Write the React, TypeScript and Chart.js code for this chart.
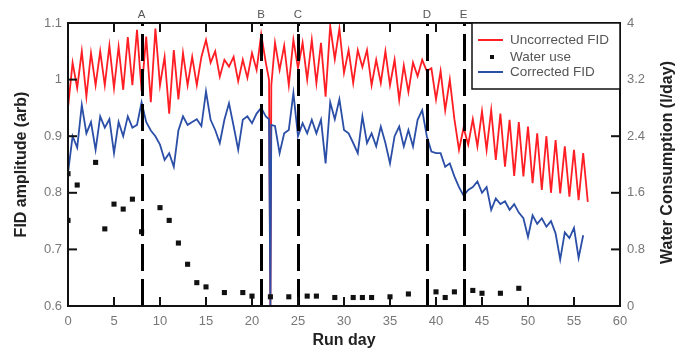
import React, { useEffect, useRef } from 'react';
import { Chart, registerables } from 'chart.js';

Chart.register(...registerables);

// FID samples every half day, starting at run day 0
const FID_STEP_DAYS = 0.5;

const uncorrectedFid: (number | null)[] = [
  0.95, 1.03, 0.985, 1.05, 0.97, 1.047, 0.99, 1.05, 0.99, 1.06,
  0.985, 1.058, 0.982, 1.075, 0.99, 1.088, 0.98, 1.076, 0.96, 1.09,
  0.99, 1.04, 0.94, 1.052, 0.965, 1.047, 0.99, 1.04, 0.99, 1.04,
  1.07, 1.03, 1.05, 1.005, 1.035, 1.023, 1.04, 0.997, 1.035, 1.003,
  1.047, 1.017, 1.08, 1.03, 0.6, 1.065, 1.017, 1.06, 0.99, 1.07,
  1.02, 1.065, 1.0, 1.07, 0.994, 1.065, 0.97, 1.095, 1.036, 1.09,
  1.012, 1.052, 0.994, 1.052, 1.022, 1.052, 0.99, 1.035, 0.994, 1.05,
  0.99, 1.035, 0.964, 1.025, 0.978, 1.03, 1.006, 1.035, 1.015, 1.02,
  0.965, 1.015, 0.946, 1.0, 0.93, 0.876, 0.915, 0.885, 0.93, 0.882,
  0.944, 0.876, 0.946, 0.858, 0.94, 0.846, 0.929, 0.83, 0.925, 0.829,
  0.917, 0.817, 0.905, 0.805, 0.9, 0.8, 0.893, 0.799, 0.882, 0.793,
  0.876, 0.787, 0.87, 0.784,
];

const correctedFid: (number | null)[] = [
  0.835, 0.9, 0.88, 0.955, 0.905, 0.925, 0.876, 0.935, 0.915, 0.93,
  0.87, 0.925, 0.9, 0.935, 0.915, 0.92, 0.96, 0.925, 0.91, 0.9,
  0.885, 0.858, 0.87, 0.846, 0.91, 0.935, 0.92, 0.925, 0.93, 0.918,
  0.979, 0.929, 0.911, 0.888, 0.929, 0.958, 0.918, 0.876, 0.929, 0.935,
  0.923, 0.94, 0.95, 0.935, 0.6, 0.918, 0.87, 0.905, 0.911, 0.976,
  0.9, 0.923, 0.905, 0.929, 0.905, 0.929, 0.852, 0.96, 0.93, 0.965,
  0.911, 0.905, 0.888, 0.87, 0.935, 0.888, 0.905, 0.882, 0.917, 0.888,
  0.852, 0.9, 0.917, 0.882, 0.911, 0.882, 0.929, 0.946, 0.9, 0.873,
  0.87, 0.87, 0.846, 0.852, 0.829, 0.81, 0.795, 0.805, 0.81, 0.82,
  0.8, 0.81, 0.77, 0.79, 0.78, 0.785, 0.77, 0.78, 0.765, 0.755,
  0.722, 0.76, 0.745, 0.755, 0.74, 0.75, 0.728, 0.682, 0.73, 0.72,
  0.738, 0.685, 0.725, null,
];

// extra samples around the day-22 dropout
const dropoutShoulderDays = [21.85, 22.1];
const uncorrectedShoulders = [1.0, 0.99];
const correctedShoulders = [0.93, 0.92];

const waterDays = [0, 0, 1, 3, 4, 5, 6, 7, 8, 10, 11, 12, 13, 14, 15, 17, 19, 20, 22, 24, 26, 27, 29, 31, 32, 33, 35, 37, 40, 41, 42, 44, 45, 47, 49];
const waterUse = [1.87, 1.21, 1.71, 2.03, 1.09, 1.44, 1.37, 1.51, 1.05, 1.39, 1.21, 0.89, 0.59, 0.33, 0.27, 0.19, 0.19, 0.14, 0.13, 0.13, 0.14, 0.14, 0.12, 0.12, 0.12, 0.12, 0.13, 0.17, 0.2, 0.12, 0.2, 0.22, 0.18, 0.18, 0.25];

const eventDays = [8, 21, 25, 39, 43];
const eventLabels = ['A', 'B', 'C', 'D', 'E'];

const seriesLabels = ['Uncorrected FID', 'Water use', 'Corrected FID'];
const xTitle = 'Run day';
const yTitle = 'FID amplitude (arb)';
const y2Title = 'Water Consumption (l/day)';

const RED = '#ff1e24';
const BLUE = '#2b4ea6';
const FONT = 'Arial, "Liberation Sans", sans-serif';

function buildSeries(grid: (number | null)[], shoulders: number[]) {
  const pts = grid.map((v, i) => ({ x: i * FID_STEP_DAYS, y: v }));
  dropoutShoulderDays.forEach((d, i) => pts.push({ x: d, y: shoulders[i] }));
  return pts.sort((a, b) => a.x - b.x);
}

const fmt = (v: number) => String(Math.round(v * 10) / 10);

const decorPlugin = {
  id: 'decor',
  afterDatasetsDraw(chart: any) {
    const { ctx, chartArea: a, scales } = chart;
    const xs = scales.x, ys = scales.y, y2s = scales.y2;
    ctx.save();

    // event dashed lines
    ctx.strokeStyle = '#000';
    ctx.lineWidth = 3;
    ctx.setLineDash([27, 8]);
    eventDays.forEach((d) => {
      const px = Math.round(xs.getPixelForValue(d)) + 0.5;
      ctx.beginPath();
      ctx.moveTo(px, a.bottom);
      ctx.lineTo(px, a.top);
      ctx.stroke();
    });
    ctx.setLineDash([]);

    ctx.fillStyle = '#555';
    ctx.font = `11.5px ${FONT}`;
    ctx.textAlign = 'center';
    ctx.textBaseline = 'middle';
    eventDays.forEach((d, i) => {
      ctx.fillText(eventLabels[i], xs.getPixelForValue(d), a.top - 8);
    });

    // inward ticks
    ctx.strokeStyle = '#111';
    ctx.lineWidth = 2;
    const L = 9;
    xs.ticks.forEach((t: any) => {
      if (t.value <= xs.min || t.value >= xs.max) return;
      const px = xs.getPixelForValue(t.value);
      ctx.beginPath();
      ctx.moveTo(px, a.bottom); ctx.lineTo(px, a.bottom - L);
      ctx.moveTo(px, a.top); ctx.lineTo(px, a.top + L);
      ctx.stroke();
    });
    ys.ticks.forEach((t: any) => {
      if (t.value <= ys.min + 1e-9 || t.value >= ys.max - 1e-9) return;
      const py = ys.getPixelForValue(t.value);
      ctx.beginPath();
      ctx.moveTo(a.left, py); ctx.lineTo(a.left + L, py);
      ctx.stroke();
    });
    y2s.ticks.forEach((t: any) => {
      if (t.value <= y2s.min + 1e-9 || t.value >= y2s.max - 1e-9) return;
      const py = y2s.getPixelForValue(t.value);
      ctx.beginPath();
      ctx.moveTo(a.right, py); ctx.lineTo(a.right - L, py);
      ctx.stroke();
    });

    // frame
    ctx.strokeStyle = '#111';
    ctx.lineWidth = 2;
    ctx.strokeRect(a.left, a.top, a.right - a.left, a.bottom - a.top);

    // legend box
    const bx = a.right - 148, by = a.top, bw = 148, bh = 66;
    ctx.fillStyle = '#fff';
    ctx.fillRect(bx, by, bw, bh);
    ctx.lineWidth = 1.5;
    ctx.strokeRect(bx, by, bw, bh);
    const rows = [by + 17, by + 34, by + 49];
    ctx.lineWidth = 2;
    ctx.strokeStyle = RED;
    ctx.beginPath(); ctx.moveTo(bx + 6, rows[0]); ctx.lineTo(bx + 31, rows[0]); ctx.stroke();
    ctx.strokeStyle = BLUE;
    ctx.beginPath(); ctx.moveTo(bx + 6, rows[2]); ctx.lineTo(bx + 31, rows[2]); ctx.stroke();
    ctx.fillStyle = '#111';
    ctx.fillRect(bx + 18, rows[1] - 2, 4, 4);
    ctx.fillStyle = '#555';
    ctx.font = `13.5px ${FONT}`;
    ctx.textAlign = 'left';
    ctx.textBaseline = 'middle';
    seriesLabels.forEach((s, i) => ctx.fillText(s, bx + 38, rows[i]));

    // axis titles
    ctx.fillStyle = '#222';
    ctx.font = `bold 16px ${FONT}`;
    ctx.textAlign = 'center';
    ctx.textBaseline = 'alphabetic';
    ctx.fillText(xTitle, (a.left + a.right) / 2, 345);
    const cy = (a.top + a.bottom) / 2;
    ctx.textBaseline = 'middle';
    ctx.save();
    ctx.translate(22, cy);
    ctx.rotate(-Math.PI / 2);
    ctx.fillText(yTitle, 0, 0);
    ctx.restore();
    ctx.save();
    ctx.translate(668, cy - 2);
    ctx.rotate(-Math.PI / 2);
    ctx.fillText(y2Title, 0, 0);
    ctx.restore();

    ctx.restore();
  },
};

export default function App() {
  const ref = useRef<HTMLCanvasElement | null>(null);
  useEffect(() => {
    document.body.style.margin = '0';
    const canvas = ref.current!;
    const chart = new Chart(canvas, {
      type: 'line',
      data: {
        datasets: [
          {
            type: 'scatter',
            label: seriesLabels[1],
            data: waterDays.map((d, i) => ({ x: d, y: waterUse[i] })),
            yAxisID: 'y2',
            showLine: false,
            pointStyle: 'rect',
            pointRadius: 3.6,
            pointBackgroundColor: '#111',
            pointBorderWidth: 0,
            backgroundColor: '#111',
            borderColor: '#111',
          } as any,
          {
            label: seriesLabels[2],
            data: buildSeries(correctedFid, correctedShoulders),
            yAxisID: 'y',
            borderColor: BLUE,
            borderWidth: 1.8,
            pointRadius: 0,
            tension: 0,
            spanGaps: false,
          },
          {
            label: seriesLabels[0],
            data: buildSeries(uncorrectedFid, uncorrectedShoulders),
            yAxisID: 'y',
            borderColor: RED,
            borderWidth: 1.8,
            pointRadius: 0,
            tension: 0,
          },
        ],
      },
      options: {
        animation: false,
        responsive: false,
        events: [],
        layout: { padding: { top: 23, left: 0, right: 0, bottom: 0 } },
        plugins: { legend: { display: false }, tooltip: { enabled: false } },
        scales: {
          x: {
            type: 'linear',
            min: 0,
            max: 60,
            grid: { display: false, drawTicks: false },
            border: { display: false },
            ticks: { stepSize: 5, color: '#777', font: { size: 13, family: FONT }, padding: 8, maxRotation: 0 },
            afterFit: (s: any) => { s.height = 43; },
          },
          y: {
            position: 'left',
            min: 0.6,
            max: 1.1,
            grid: { display: false, drawTicks: false },
            border: { display: false },
            ticks: { stepSize: 0.1, color: '#777', font: { size: 13, family: FONT }, padding: 6, callback: (v: any) => fmt(Number(v)) },
            afterFit: (s: any) => { s.width = 68; },
          },
          y2: {
            position: 'right',
            min: 0,
            max: 4,
            grid: { display: false, drawTicks: false },
            border: { display: false },
            ticks: { stepSize: 0.8, color: '#777', font: { size: 13, family: FONT }, padding: 7, callback: (v: any) => fmt(Number(v)) },
            afterFit: (s: any) => { s.width = 71; },
          },
        },
      } as any,
      plugins: [decorPlugin],
    });
    return () => chart.destroy();
  }, []);
  return (
    <div style={{ width: 691, height: 349, position: 'relative' }}>
      <canvas ref={ref} width={691} height={349} style={{ display: 'block' }} />
    </div>
  );
}
